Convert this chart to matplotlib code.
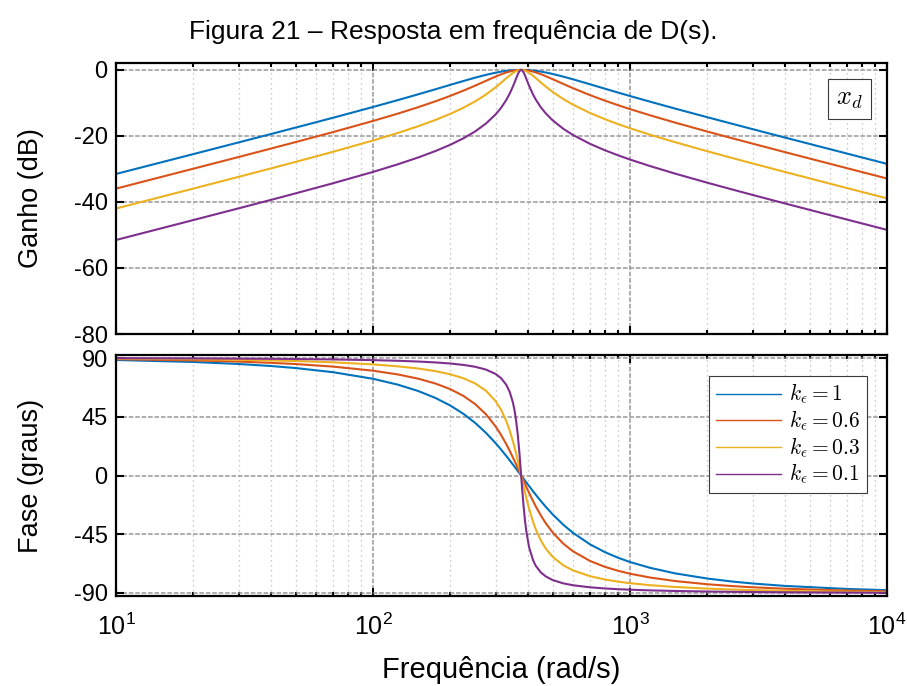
import math
import matplotlib
matplotlib.use("Agg")
import matplotlib.pyplot as plt
from matplotlib.font_manager import FontProperties
from matplotlib.ticker import FixedLocator, LogLocator, NullFormatter, FuncFormatter

plt.rcParams['font.family'] = ['Liberation Sans', 'DejaVu Sans']
plt.rcParams['mathtext.fontset'] = 'custom'
plt.rcParams['mathtext.rm'] = 'Liberation Sans'
plt.rcParams['mathtext.it'] = 'Liberation Sans:italic'
plt.rcParams['axes.unicode_minus'] = False

# ---------------- data ----------------
freq = [10, 20, 30, 40, 50, 70, 100, 125, 150, 175,
        200, 225, 250, 275, 300, 315, 330, 340, 350, 355,
        360, 365, 370, 374, 377, 380, 385, 390, 395, 405,
        420, 430, 450, 470, 500, 550, 600, 700, 800, 900,
        1000, 1200, 1500, 2000, 2500, 3000, 4000, 7000, 10000]

labels = [r'$k_\epsilon = 1$', r'$k_\epsilon = 0.6$', r'$k_\epsilon = 0.3$', r'$k_\epsilon = 0.1$']
colors = ['#0072BD', '#D95319', '#EDB120', '#7E2F8E']

gain_k1 = [-31.52, -25.50, -21.96, -19.44, -17.47, -14.48, -11.23, -9.14, -7.38, -5.86,
           -4.52, -3.35, -2.34, -1.50, -0.84, -0.53, -0.30, -0.18, -0.09, -0.06,
           -0.04, -0.02, -0.01, 0.00, 0.00, 0.00, -0.01, -0.02, -0.04, -0.09,
           -0.20, -0.29, -0.52, -0.78, -1.23, -2.04, -2.85, -4.37, -5.71, -6.88,
           -7.91, -9.65, -11.73, -14.34, -16.33, -17.95, -20.48, -25.36, -28.47]
gain_k06 = [-35.96, -29.92, -26.38, -23.84, -21.86, -18.82, -15.46, -13.23, -11.28, -9.51,
            -7.85, -6.27, -4.75, -3.31, -2.01, -1.34, -0.79, -0.49, -0.26, -0.17,
            -0.10, -0.05, -0.02, 0.00, 0.00, 0.00, -0.02, -0.06, -0.10, -0.24,
            -0.53, -0.77, -1.31, -1.90, -2.81, -4.25, -5.54, -7.66, -9.33, -10.71,
            -11.87, -13.78, -15.98, -18.68, -20.71, -22.34, -24.89, -29.79, -32.90]
gain_k03 = [-41.98, -35.94, -32.39, -29.85, -27.86, -24.79, -21.38, -19.09, -17.05, -15.15,
            -13.30, -11.44, -9.51, -7.46, -5.26, -3.89, -2.54, -1.69, -0.95, -0.65,
            -0.39, -0.20, -0.07, -0.01, 0.00, -0.01, -0.08, -0.22, -0.40, -0.89,
            -1.82, -2.49, -3.82, -5.05, -6.66, -8.84, -10.53, -13.08, -14.95, -16.44,
            -17.67, -19.66, -21.91, -24.65, -26.70, -28.34, -30.90, -35.81, -38.92]
gain_k01 = [-51.52, -45.48, -41.93, -39.39, -37.39, -34.32, -30.90, -28.58, -26.52, -24.57,
            -22.66, -20.70, -18.60, -16.25, -13.47, -11.48, -9.10, -7.23, -5.07, -3.89,
            -2.68, -1.52, -0.57, -0.11, 0.00, -0.11, -0.71, -1.64, -2.72, -4.85,
            -7.55, -9.01, -11.36, -13.17, -15.28, -17.84, -19.72, -22.43, -24.37, -25.89,
            -27.15, -29.16, -31.43, -34.18, -36.23, -37.88, -40.44, -45.35, -48.46]

phase_k1 = [88.48, 86.96, 85.42, 83.88, 82.31, 79.11, 74.08, 69.57, 64.70, 59.39,
            53.56, 47.17, 40.20, 32.68, 24.74, 19.86, 14.95, 11.69, 8.46, 6.86,
            5.27, 3.70, 2.15, 0.92, 0.00, -0.91, -2.40, -3.88, -5.33, -8.16,
            -12.21, -14.79, -19.59, -23.97, -29.78, -37.72, -43.93, -52.82, -58.79, -63.07,
            -66.28, -70.78, -74.99, -78.94, -81.22, -82.72, -84.57, -86.91, -87.84]
phase_k06 = [89.09, 88.17, 87.25, 86.31, 85.37, 83.42, 80.29, 77.40, 74.16, 70.45,
             66.10, 60.91, 54.62, 46.91, 37.53, 31.05, 24.00, 19.03, 13.93, 11.34,
             8.75, 6.16, 3.58, 1.53, 0.00, -1.51, -4.00, -6.45, -8.84, -13.44,
             -19.84, -23.74, -30.67, -36.54, -43.64, -52.20, -58.08, -65.53, -70.03, -73.05,
             -75.23, -78.19, -80.86, -83.31, -84.71, -85.62, -86.73, -88.14, -88.70]
phase_k03 = [89.54, 89.09, 88.62, 88.16, 87.68, 86.70, 85.11, 83.62, 81.93, 79.93,
             77.51, 74.46, 70.46, 64.94, 56.94, 50.29, 41.68, 34.60, 26.38, 21.86,
             17.10, 12.17, 7.12, 3.05, 0.00, -3.02, -7.97, -12.74, -17.28, -25.55,
             -35.81, -41.34, -49.87, -55.99, -62.33, -68.80, -72.70, -77.18, -79.70, -81.33,
             -82.49, -84.03, -85.40, -86.64, -87.35, -87.81, -88.37, -89.07, -89.35]
phase_k01 = [89.85, 89.70, 89.54, 89.39, 89.23, 88.90, 88.37, 87.87, 87.29, 86.61,
             85.78, 84.70, 83.25, 81.14, 77.76, 74.53, 69.47, 64.21, 56.09, 50.27,
             42.71, 32.91, 20.55, 9.08, 0.00, -9.01, -22.78, -34.14, -43.02, -55.11,
             -65.20, -69.25, -74.30, -77.32, -80.09, -82.63, -84.07, -85.66, -86.53, -87.09,
             -87.48, -88.00, -88.46, -88.88, -89.12, -89.27, -89.46, -89.69, -89.78]

gains = [gain_k1, gain_k06, gain_k03, gain_k01]
phases = [phase_k1, phase_k06, phase_k03, phase_k01]

gain_ticks = [0, -20, -40, -60, -80]
phase_ticks = [90, 45, 0, -45, -90]
x_ticks = [10, 100, 1000, 10000]

# ---------------- figure ----------------
fig = plt.figure(figsize=(9.07, 6.86), dpi=100)
ax1 = fig.add_axes([0.1279, 0.5131, 0.8501, 0.3951])
ax2 = fig.add_axes([0.1279, 0.1312, 0.8501, 0.3513])

tick_fs = 17
label_fs = 19.5

for ax in (ax1, ax2):
    ax.set_xscale('log')
    ax.set_xlim(10, 10000)
    ax.xaxis.set_major_locator(FixedLocator(x_ticks))
    ax.xaxis.set_minor_locator(LogLocator(base=10, subs=range(2, 10), numticks=20))
    ax.xaxis.set_minor_formatter(NullFormatter())
    ax.grid(True, which='major', color='#8c8c8c', linestyle=(0, (3, 1.2)), linewidth=1.1, alpha=0.9)
    ax.grid(True, which='minor', axis='x', color='#b8b8b8', linestyle=(0, (1, 3)), linewidth=0.9)
    ax.tick_params(which='both', direction='in', top=True, right=True, width=1.5,
                   labelsize=tick_fs, pad=6, colors='black')
    ax.tick_params(which='major', length=5.5)
    ax.tick_params(which='minor', length=3)
    for sp in ax.spines.values():
        sp.set_linewidth(1.6)
    ax.set_axisbelow(True)

for g, c, l in zip(gains, colors, labels):
    ax1.plot(freq, g, color=c, linewidth=1.5, label=l)
for p, c, l in zip(phases, colors, labels):
    ax2.plot(freq, p, color=c, linewidth=1.5, label=l)

ax1.set_ylim(-80, 2.1)
ax1.yaxis.set_major_locator(FixedLocator(gain_ticks))
ax1.tick_params(axis='x', which='both', labelbottom=False)
ax1.set_ylabel('Ganho (dB)', fontsize=label_fs)

ax2.set_ylim(-92.3, 92.3)
ax2.yaxis.set_major_locator(FixedLocator(phase_ticks))
ax2.set_ylabel('Fase (graus)', fontsize=label_fs)
ax2.xaxis.set_major_formatter(FuncFormatter(lambda v, pos: r'$10^{%d}$' % round(math.log10(v))))
ax2.tick_params(axis='x', which='major', labelsize=18, pad=13)
ax2.set_xlabel('Frequência (rad/s)', fontsize=21, labelpad=11)

ax1.yaxis.set_label_coords(-0.094, 0.5)
ax2.yaxis.set_label_coords(-0.094, 0.5)

fig.suptitle('Figura 21 – Resposta em frequência de D(s).', fontsize=19, y=0.971)

cmprop = FontProperties(family='DejaVu Serif', size=15.5, math_fontfamily='cm')
leg = ax2.legend(loc='upper right', prop=cmprop, frameon=True, fancybox=False,
                 edgecolor='#3a3a3a', framealpha=1, handlelength=3.0, borderpad=0.3,
                 labelspacing=0.12, handletextpad=0.4, borderaxespad=0.0,
                 bbox_to_anchor=(0.974, 0.913))
leg.get_frame().set_linewidth(0.8)
for line in leg.get_lines():
    line.set_linewidth(1.0)

ax1.text(0.951, 0.868, r'$x_d$', transform=ax1.transAxes, ha='center', va='center',
         fontproperties=FontProperties(size=19, math_fontfamily='cm'),
         bbox=dict(boxstyle='square,pad=0.3', facecolor='white', edgecolor='#3a3a3a', linewidth=0.8))

fig.savefig('out.png', dpi=100)
